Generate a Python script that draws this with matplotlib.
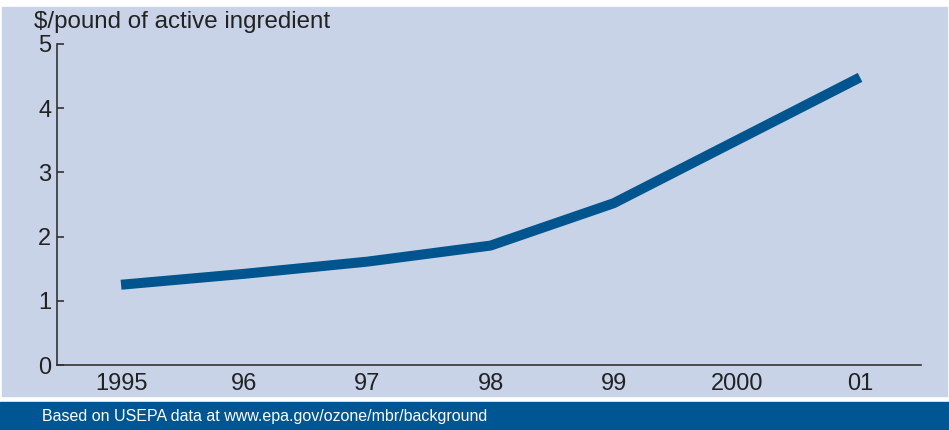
import matplotlib.pyplot as plt
from matplotlib.patches import Rectangle

plt.rcParams['font.family'] = ['Liberation Sans', 'DejaVu Sans']

years = ['1995', '96', '97', '98', '99', '2000', '01']
price = [1.25, 1.42, 1.61, 1.86, 2.52, 3.50, 4.48]
yticks = [0, 1, 2, 3, 4, 5]

panel_bg = '#c8d3e7'
line_blue = '#00558f'
footer_blue = '#005593'

fig = plt.figure(figsize=(9.49, 4.30), dpi=100)
W, H = 949, 430

# light panel and footer band
fig.patches.append(Rectangle((2 / W, 1 - 396 / H), 945 / W, 389 / H,
                             transform=fig.transFigure, color=panel_bg, zorder=-2))
fig.patches.append(Rectangle((0, 0), 1, 28 / H,
                             transform=fig.transFigure, color=footer_blue, zorder=-2))

ax = fig.add_axes([57 / W, 1 - 365 / H, (921 - 57) / W, (365 - 44) / H])
ax.set_facecolor('none')
x = range(len(years))
ax.plot(x, price, color=line_blue, lw=7.2, solid_capstyle='butt', solid_joinstyle='round')

ax.set_xlim(-0.52, 6.495)
ax.set_ylim(0, 5)
ax.set_xticks(list(x))
ax.set_xticklabels(years)
ax.set_yticks(yticks)
for s in ['top', 'right']:
    ax.spines[s].set_visible(False)
ax.spines['left'].set_color('#333333')
ax.spines['bottom'].set_color('#333333')
ax.spines['left'].set_linewidth(1.2)
ax.spines['bottom'].set_linewidth(1.2)
ax.tick_params(axis='x', length=0, pad=6, labelsize=17, labelcolor='#222222')
ax.tick_params(axis='y', direction='in', length=5, width=1.2, color='#333333',
               pad=4, labelsize=17, labelcolor='#222222')

fig.text(34 / W, 1 - 22 / H, '$/pound of active ingredient', fontsize=17.4,
         color='#222222', va='center', ha='left')
fig.text(42 / W, 1 - 417 / H, 'Based on USEPA data at www.epa.gov/ozone/mbr/background',
         fontsize=11.55, color='white', va='center', ha='left')

fig.savefig('out.png', dpi=100)
